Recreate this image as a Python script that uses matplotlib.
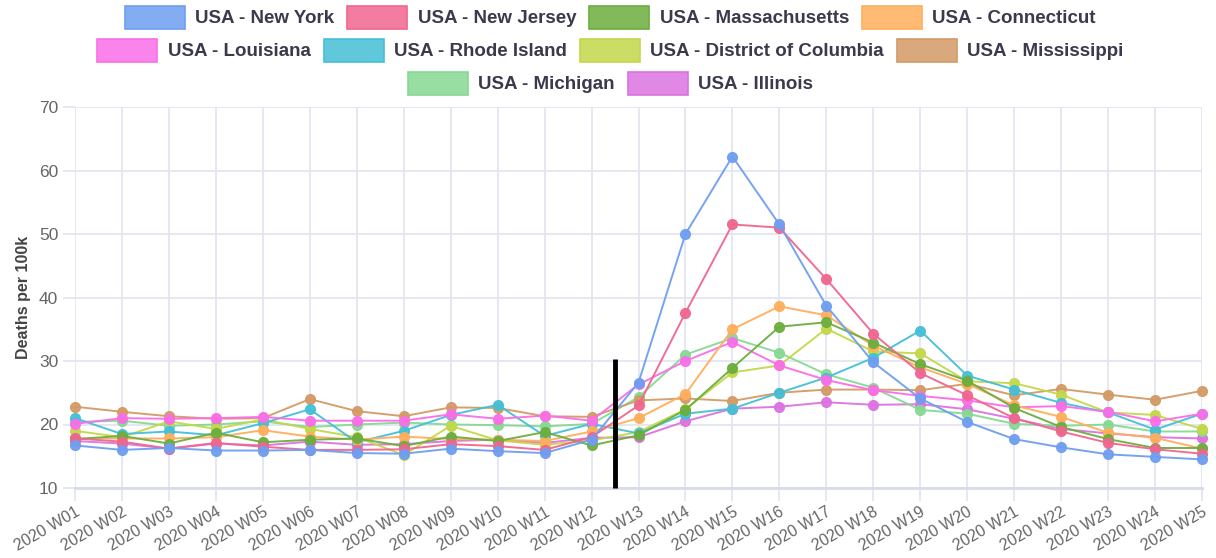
import matplotlib
matplotlib.use("Agg")
import matplotlib.pyplot as plt
from matplotlib.patches import Rectangle
import matplotlib.colors as mcolors

plt.rcParams['font.family'] = ['Liberation Sans', 'DejaVu Sans']

weeks = [f"2020 W{i:02d}" for i in range(1, 26)]

new_york = [16.7, 16.0, 16.3, 15.9, 15.9, 16.0, 15.5, 15.4, 16.2, 15.8, 15.5, 17.6, 26.6,
            50.0, 62.2, 51.5, 38.7, 29.8, 24.1, 20.4, 17.7, 16.4, 15.3, 14.9, 14.5]
new_jersey = [17.8, 17.3, 16.2, 17.1, 16.5, 16.0, 16.0, 16.1, 16.9, 16.6, 16.0, 18.0, 23.0,
              37.6, 51.5, 51.0, 42.9, 34.3, 28.1, 24.6, 21.0, 18.9, 17.1, 16.1, 15.4]
massachusetts = [17.7, 18.2, 17.0, 18.7, 17.2, 17.6, 17.8, 16.6, 18.1, 17.4, 18.8, 16.7, 18.3,
                 22.3, 28.9, 35.4, 36.1, 32.9, 29.5, 26.9, 22.6, 19.6, 17.7, 16.3, 16.3]
connecticut = [17.8, 17.8, 17.8, 18.0, 19.1, 18.1, 17.6, 18.1, 17.7, 17.6, 17.4, 18.9, 21.0,
               24.8, 35.0, 38.6, 37.2, 32.4, 29.0, 26.4, 23.0, 21.2, 18.7, 17.9, 16.2]
louisiana = [20.1, 21.0, 20.9, 21.0, 21.2, 20.6, 20.6, 20.6, 21.6, 20.9, 21.4, 20.6, 26.3,
             30.0, 33.0, 29.3, 27.0, 25.4, 24.5, 23.8, 22.7, 22.9, 22.0, 20.5, 21.7]
rhode_island = [21.0, 18.5, 18.9, 18.3, 20.2, 22.4, 17.2, 19.0, 21.5, 23.1, 18.2, 20.1, 18.6,
                21.7, 22.5, 25.0, 27.4, 30.5, 34.8, 27.7, 25.5, 23.4, 21.9, 19.2, 21.7]
district_of_columbia = [19.0, 18.0, 20.5, 19.3, 20.8, 19.3, 18.0, 15.2, 19.8, 17.5, 16.8, 17.5, 18.8,
                        22.4, 28.2, 29.3, 35.1, 31.5, 31.2, 26.8, 26.5, 24.7, 21.9, 21.5, 19.3]
mississippi = [22.8, 22.0, 21.3, 20.9, 21.0, 24.0, 22.1, 21.3, 22.7, 22.6, 21.3, 21.2, 23.8,
               24.1, 23.7, 25.0, 25.5, 25.5, 25.4, 26.4, 24.6, 25.6, 24.7, 23.9, 25.3]
michigan = [20.4, 20.6, 19.8, 20.0, 20.5, 19.6, 20.0, 20.3, 20.0, 19.9, 19.7, 20.1, 24.3,
            31.0, 33.6, 31.3, 27.9, 25.8, 22.3, 21.7, 20.1, 19.8, 20.0, 18.9, 18.9]
illinois = [17.4, 17.0, 16.2, 17.0, 16.7, 17.3, 16.8, 16.9, 17.4, 17.6, 17.1, 17.9, 18.0,
            20.5, 22.5, 22.8, 23.5, 23.1, 23.2, 22.4, 20.9, 19.3, 18.6, 18.0, 17.8]

series_names = ["USA - New York", "USA - New Jersey", "USA - Massachusetts", "USA - Connecticut",
                "USA - Louisiana", "USA - Rhode Island", "USA - District of Columbia",
                "USA - Mississippi", "USA - Michigan", "USA - Illinois"]
series_values = [new_york, new_jersey, massachusetts, connecticut, louisiana, rhode_island,
                 district_of_columbia, mississippi, michigan, illinois]
series_colors = ["#6f9ef0", "#f0668f", "#6cae3e", "#ffae5c", "#fa6ee8", "#45bfd6",
                 "#c3d84a", "#d39a66", "#86d992", "#dc72e0"]

marker_week_pos = 11.5   # vertical marker between W12 and W13
marker_top = 30.3

fig = plt.figure(figsize=(12.16, 5.58), dpi=100)
ax = fig.add_axes([75 / 1216, 1 - 488 / 558, (1202 - 75) / 1216, (488 - 107) / 558])

x = list(range(len(weeks)))
# draw in reverse so the first dataset is on top
for name, vals, col in reversed(list(zip(series_names, series_values, series_colors))):
    ax.plot(x, vals, color=col, lw=1.4, marker='o', ms=7, mfc=col, mec=col,
            alpha=0.95, clip_on=False, zorder=3)

ax.plot([marker_week_pos, marker_week_pos], [10, marker_top], color='black', lw=3.5,
        solid_capstyle='butt', zorder=5, clip_on=False)

ax.set_xlim(0, len(weeks) - 1)
ax.set_ylim(10, 70)
ax.set_yticks([10, 20, 30, 40, 50, 60, 70])
ax.set_xticks(x)
ax.set_xticklabels(weeks, rotation=30, ha='right', rotation_mode='anchor')

gridc = '#e3e6f2'
ax.grid(True, color=gridc, lw=1.3, zorder=0)
ax.set_axisbelow(True)
for s in ['top', 'right', 'left']:
    ax.spines[s].set_visible(False)
ax.spines['bottom'].set_color('#d8dbe8')
ax.spines['bottom'].set_linewidth(2)
ax.tick_params(axis='both', colors=gridc, length=9, width=1.3, labelcolor='#666666')
ax.tick_params(axis='y', labelsize=12.5, pad=3)
ax.tick_params(axis='x', labelsize=11.5, pad=3)

ax.set_ylabel("Deaths per 100k", fontsize=11.5, fontweight='bold', color='#444444', labelpad=6)

# legend in three centered rows
def make_handle(col):
    rgba = mcolors.to_rgba(col, 0.85)
    return Rectangle((0, 0), 1, 1, facecolor=rgba, edgecolor=mcolors.to_rgba(col, 1.0), lw=1.2)

rows = [(0, 4, 0.969), (4, 8, 0.910), (8, 10, 0.851)]
for a, b, yy in rows:
    handles = [make_handle(c) for c in series_colors[a:b]]
    leg = fig.legend(handles, series_names[a:b], loc='center', bbox_to_anchor=(0.502, yy),
                     ncol=b - a, frameon=False, handlelength=3.2, handleheight=1.5,
                     handletextpad=0.55, columnspacing=0.7, borderpad=0, borderaxespad=0,
                     prop={'size': 13.5, 'weight': 'bold'})
    for t in leg.get_texts():
        t.set_color('#3a3a4c')

fig.savefig("out.png", dpi=100)
